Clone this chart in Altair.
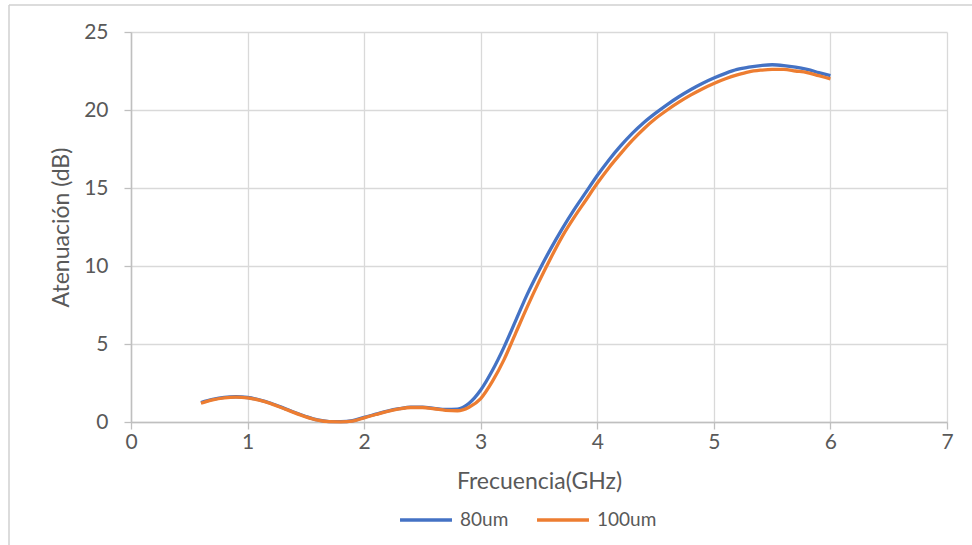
import altair as alt
import pandas as pd

freq = [0.6, 0.7, 0.8, 0.9, 1.0, 1.1, 1.2, 1.3, 1.4, 1.5, 1.6, 1.7, 1.8, 1.9,
        2.0, 2.1, 2.2, 2.3, 2.4, 2.5, 2.6, 2.7, 2.8, 2.9, 3.0, 3.1, 3.2, 3.3,
        3.4, 3.5, 3.6, 3.7, 3.8, 3.9, 4.0, 4.1, 4.2, 4.3, 4.4, 4.5, 4.6, 4.7,
        4.8, 4.9, 5.0, 5.1, 5.2, 5.3, 5.4, 5.5, 5.6, 5.7, 5.8, 5.9, 6.0]

att_80 = [1.25, 1.45, 1.58, 1.62, 1.57, 1.42, 1.20, 0.92, 0.62, 0.35, 0.13,
          0.03, 0.02, 0.08, 0.30, 0.50, 0.70, 0.85, 0.95, 0.95, 0.88, 0.80,
          0.82, 1.20, 2.05, 3.30, 4.80, 6.50, 8.20, 9.70, 11.1, 12.4, 13.6,
          14.7, 15.8, 16.8, 17.7, 18.5, 19.2, 19.8, 20.35, 20.85, 21.3, 21.7,
          22.05, 22.35, 22.6, 22.75, 22.85, 22.9, 22.85, 22.75, 22.6, 22.4, 22.2]

att_100 = [1.20, 1.42, 1.55, 1.60, 1.55, 1.40, 1.18, 0.90, 0.60, 0.33, 0.12,
           0.02, 0.01, 0.06, 0.27, 0.48, 0.68, 0.84, 0.93, 0.93, 0.85, 0.75,
           0.72, 0.95, 1.50, 2.60, 4.00, 5.70, 7.40, 9.00, 10.5, 11.9, 13.1,
           14.2, 15.3, 16.3, 17.2, 18.05, 18.8, 19.45, 20.0, 20.5, 20.95, 21.35,
           21.7, 22.0, 22.25, 22.45, 22.55, 22.6, 22.6, 22.5, 22.4, 22.2, 22.0]

series = ["80um", "100um"]
colors = ["#4472C4", "#ED7D31"]
x_ticks = [0, 1, 2, 3, 4, 5, 6, 7]
y_ticks = [0, 5, 10, 15, 20, 25]

FONT = "Lato"
TXT = "#595959"
GRID = "#d9d9d9"

n = len(freq)
df = pd.DataFrame({
    "Frecuencia": freq + freq,
    "Atenuacion": att_80 + att_100,
    "Serie": [series[0]] * n + [series[1]] * n,
    "orden": [0] * n + [1] * n,
})

lines = alt.Chart(df).mark_line(strokeWidth=3.3, interpolate="monotone").encode(
    x=alt.X("Frecuencia:Q",
            scale=alt.Scale(domain=[0, 7], nice=False, zero=False),
            axis=alt.Axis(values=x_ticks, title="Frecuencia(GHz)", format="d",
                          grid=True, gridColor=GRID, gridWidth=1.3,
                          domainColor="#bfbfbf", domainWidth=1.5,
                          tickColor="#bfbfbf", tickSize=7, tickWidth=1.3,
                          labelFont=FONT, labelFontSize=21, labelColor=TXT,
                          labelPadding=2, labelFlush=False,
                          titleFont=FONT, titleFontSize=23, titleColor=TXT,
                          titleFontWeight="normal", titlePadding=18)),
    y=alt.Y("Atenuacion:Q",
            scale=alt.Scale(domain=[0, 25], nice=False),
            axis=alt.Axis(values=y_ticks, title="Atenuación (dB)", format="d",
                          grid=True, gridColor=GRID, gridWidth=1.3,
                          domainColor="#bfbfbf", domainWidth=1.5,
                          tickColor="#bfbfbf", tickSize=7, tickWidth=1.3,
                          labelFont=FONT, labelFontSize=21, labelColor=TXT,
                          labelPadding=16, labelFlush=False,
                          titleFont=FONT, titleFontSize=23, titleColor=TXT,
                          titleFontWeight="normal", titlePadding=10)),
    color=alt.Color("Serie:N",
                    scale=alt.Scale(domain=series, range=colors),
                    sort=series,
                    legend=alt.Legend(title=None, orient="none",
                                      legendX=267, legendY=460,
                                      direction="horizontal",
                                      symbolType="stroke", symbolSize=2700,
                                      symbolStrokeWidth=3.3,
                                      labelFont=FONT, labelFontSize=19,
                                      labelColor=TXT, labelOffset=6,
                                      columnPadding=21)),
    order=alt.Order("orden:Q", sort="descending"),
)

frame_df = pd.DataFrame({"k": [0]})
frame_top = alt.Chart(frame_df).mark_rule(color="#d0d0d0", strokeWidth=1.5, clip=False).encode(
    x=alt.value(-122), x2=alt.value(841), y=alt.value(-27))
frame_left = alt.Chart(frame_df).mark_rule(color="#d0d0d0", strokeWidth=1.5, clip=False).encode(
    x=alt.value(-122), y=alt.value(-27), y2=alt.value(513))

chart = alt.layer(frame_top, frame_left, lines).properties(
    width=816, height=390,
    autosize=alt.AutoSizeParams(type="none"),
    padding={"left": 131, "top": 32, "right": 25, "bottom": 123},
    background="white",
).configure_view(stroke=None)

chart.save("out.html", embed_options={"renderer": "svg", "actions": False})
